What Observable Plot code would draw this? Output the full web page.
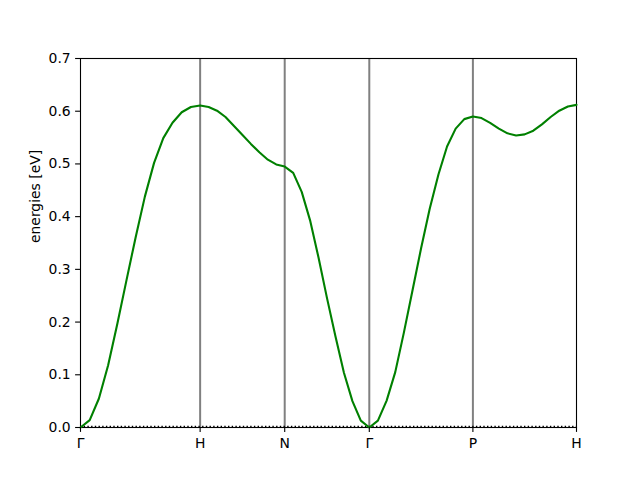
<!DOCTYPE html>
<html>
<head>
<meta charset="utf-8">
<script src="https://cdn.jsdelivr.net/npm/d3@7"></script>
<script src="https://cdn.jsdelivr.net/npm/@observablehq/plot@0.6"></script>
<style>
  html, body { margin: 0; padding: 0; background: #fff; }
</style>
</head>
<body>
<div id="chart"></div>
<script>
// k-path distances (Γ–H–N–Γ–P–H, bcc)
const kDist = [
  0.000, 0.077, 0.154, 0.231, 0.308, 0.385, 0.462, 0.538, 0.615, 0.692, 0.769, 0.846, 0.923, 1.000,
  1.071, 1.141, 1.212, 1.283, 1.354, 1.424, 1.495, 1.566, 1.636, 1.707,
  1.778, 1.849, 1.919, 1.990, 2.061, 2.131, 2.202, 2.273, 2.343, 2.414,
  2.486, 2.559, 2.631, 2.703, 2.775, 2.847, 2.919, 2.992, 3.064, 3.136, 3.208, 3.280,
  3.352, 3.424, 3.497, 3.569, 3.641, 3.713, 3.785, 3.857, 3.930, 4.002, 4.074, 4.146
];
// band energies [eV]
const energy = [
  0.000, 0.014, 0.055, 0.118, 0.197, 0.280, 0.362, 0.438, 0.502, 0.549, 0.578, 0.598, 0.608, 0.611,
  0.608, 0.601, 0.589, 0.572, 0.555, 0.538, 0.522, 0.508, 0.499, 0.495,
  0.483, 0.447, 0.393, 0.322, 0.245, 0.173, 0.104, 0.050, 0.013, 0.000,
  0.013, 0.051, 0.105, 0.180, 0.260, 0.340, 0.415, 0.480, 0.533, 0.567, 0.585, 0.590,
  0.587, 0.578, 0.567, 0.558, 0.554, 0.556, 0.563, 0.575, 0.589, 0.601, 0.609, 0.612
];
// high-symmetry points
const symPos = [0, 1.000, 1.707, 2.414, 3.280, 4.146];
const symLabels = ["Γ", "H", "N", "Γ", "P", "H"];
const yTicks = [0, 0.1, 0.2, 0.3, 0.4, 0.5, 0.6, 0.7];

const data = kDist.map((k, i) => ({k, e: energy[i]}));

const chart = Plot.plot({
  width: 640,
  height: 480,
  marginLeft: 80,
  marginRight: 64,
  marginTop: 58,
  marginBottom: 53,
  style: {fontFamily: "DejaVu Sans", fontSize: "13.9px", background: "#fff", color: "black"},
  x: {domain: [0, symPos[symPos.length - 1]]},
  y: {domain: [0, 0.7]},
  marks: [
    Plot.ruleX(symPos.slice(1, -1), {stroke: "#808080", strokeWidth: 2}),
    Plot.frame({stroke: "black", strokeWidth: 1.1}),
    Plot.ruleY([0], {stroke: "black", strokeWidth: 1.3, strokeDasharray: "1.4,2.3", dy: -1}),
    Plot.line(data, {x: "k", y: "e", stroke: "#008000", strokeWidth: 2.1}),
    Plot.axisY({ticks: yTicks, tickFormat: d3.format(".1f"), tickSize: 4.9, tickPadding: 4.9, strokeWidth: 1.1, label: null, fontSize: 13.9}),
    Plot.axisX({ticks: symPos, tickFormat: d => symLabels[symPos.indexOf(d)], tickSize: 4.9, tickPadding: 5.5, strokeWidth: 1.1, label: null, fontSize: 13.9}),
    Plot.text(["energies [eV]"], {frameAnchor: "left", dx: -45, rotate: -90, fontSize: 13.9, fill: "black"})
  ]
});
document.getElementById("chart").appendChild(chart);
</script>
</body>
</html>
